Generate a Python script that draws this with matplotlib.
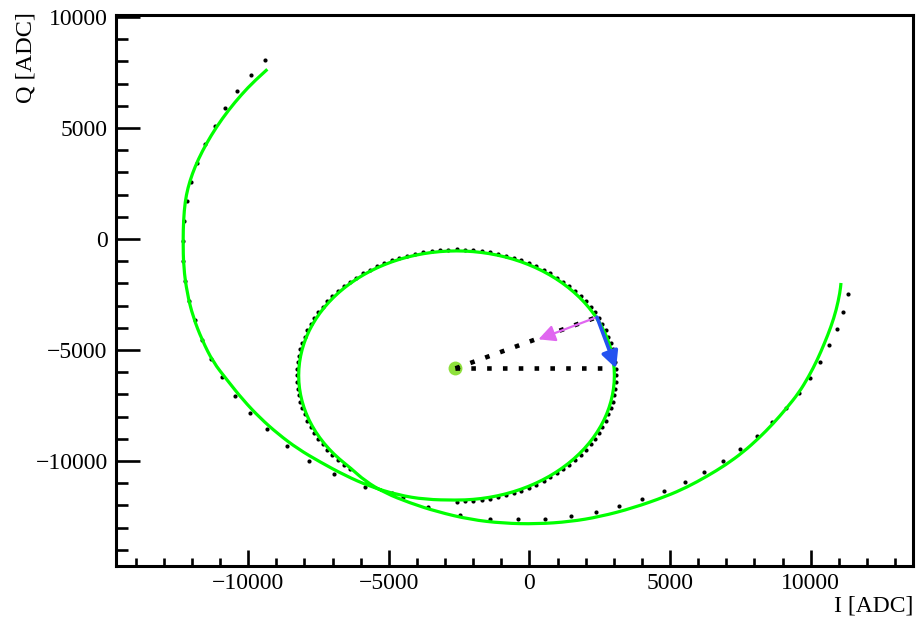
import matplotlib
matplotlib.use("Agg")
import matplotlib.pyplot as plt
from matplotlib.patches import FancyArrowPatch, PathPatch
from matplotlib.path import Path
from matplotlib.ticker import MultipleLocator

plt.rcParams['font.family'] = ['Liberation Serif', 'DejaVu Serif']

# Measured IQ points far from resonance (sparse sweep)
outer_I = [-9399, -9915, -10384, -10811, -11188, -11522, -11806, -12041, -12183, -12279,
           -12325, -12304, -12243, -12091, -11899, -11639, -11308, -10928, -10455, -9933,
           -9318, -8628, -7835, -6936, -5834, -4895, -4483, -3615, -2467, -1401,
           -395, 565, 1479, 2357, 3196, 4003, 4785, 5521, 6218, 6882,
           7497, 8081, 8614, 9112, 9574, 9986, 10341, 10651, 10925, 11148, 11316]
outer_Q = [8064, 7388, 6654, 5888, 5091, 4280, 3437, 2568, 1698, 797,
           -90, -978, -1879, -2780, -3663, -4536, -5393, -6230, -7059, -7825,
           -8573, -9312, -9988, -10600, -11186, -11456, -11609, -12087, -12434, -12600,
           -12627, -12600, -12479, -12285, -12042, -11727, -11366, -10961, -10497, -9988,
           -9461, -8861, -8258, -7600, -6938, -6248, -5528, -4789, -4041, -3275, -2491]

# Measured IQ points across the resonance loop (dense sweep)
loop_I = [-2592, -2295, -1998, -1704, -1411, -1122, -837, -556, -282, -13, 248, 501, 747, 982,
          1208, 1424, 1629, 1822, 2003, 2172, 2327, 2469, 2597, 2711, 2810, 2894, 2964, 3018,
          3057, 3080, 3088, 3080, 3057, 3018, 2964, 2894, 2810, 2711, 2597, 2469, 2327, 2172,
          2003, 1822, 1629, 1424, 1208, 982, 747, 501, 248, -13, -282, -556, -837, -1122,
          -1411, -1704, -1998, -2295, -2592, -2889, -3186, -3480, -3773, -4062, -4347, -4628,
          -4902, -5171, -5432, -5685, -5931, -6166, -6392, -6608, -6813, -7006, -7187, -7356,
          -7511, -7653, -7781, -7895, -7994, -8078, -8148, -8202, -8241, -8264, -8272, -8264,
          -8241, -8202, -8148, -8078, -7994, -7895, -7781, -7653, -7511, -7356, -7187, -7006,
          -6813, -6608, -6392]
loop_Q = [-11829, -11821, -11798, -11759, -11705, -11635, -11551, -11452, -11338, -11210,
          -11068, -10913, -10744, -10563, -10370, -10165, -9949, -9723, -9488, -9242,
          -8989, -8728, -8459, -8185, -7904, -7619, -7330, -7037, -6743, -6446, -6149,
          -5852, -5555, -5261, -4968, -4679, -4394, -4113, -3839, -3570, -3309, -3056,
          -2810, -2575, -2349, -2133, -1928, -1735, -1554, -1385, -1230, -1088, -960,
          -846, -747, -663, -593, -539, -500, -477, -469, -477, -500, -539, -593, -663,
          -747, -846, -960, -1088, -1230, -1385, -1554, -1735, -1928, -2133, -2349, -2575,
          -2810, -3056, -3309, -3570, -3839, -4113, -4394, -4679, -4968, -5261, -5555,
          -5852, -6149, -6446, -6743, -7037, -7330, -7619, -7904, -8185, -8459, -8728,
          -8989, -9242, -9488, -9723, -9949, -10165, -10370]

# Fitted S21 model: approach, resonance loop, departure
fit_in_I = [-9318, -9780, -10242, -10704, -11131, -11486, -11771, -11984, -12144, -12243,
            -12297, -12315, -12297, -12172, -11959, -11639, -11248, -10750, -10182, -9577,
            -8937, -8226, -7444, -6555, -5667, -4671, -3711]
fit_in_Q = [7645, 7118, 6501, 5798, 5041, 4298, 3595, 2946, 2298, 1667,
            856, -45, -1261, -2433, -3514, -4550, -5541, -6352, -7253, -8064,
            -8785, -9461, -10046, -10654, -11150, -11533, -11736]
fit_loop_I = [-2592, -2005, -1424, -855, -306, 218, 711, 1168, 1584, 1955, 2275, 2542, 2753,
              2905, 2997, 3028, 2997, 2905, 2753, 2542, 2275, 1955, 1584, 1168, 711, 218,
              -306, -855, -1424, -2005, -2592, -3179, -3760, -4329, -4878, -5402, -5895,
              -6352, -6768, -7139, -7459, -7726, -7937, -8089, -8181, -8212, -8181, -8089,
              -7937, -7726, -7459, -7139, -6768, -6352]
fit_loop_Q = [-11769, -11738, -11646, -11494, -11283, -11016, -10696, -10325, -9909, -9452,
              -8959, -8435, -7886, -7317, -6736, -6149, -5562, -4981, -4412, -3863, -3339,
              -2846, -2389, -1973, -1602, -1282, -1015, -804, -652, -560, -529, -560, -652,
              -804, -1015, -1282, -1602, -1973, -2389, -2846, -3339, -3863, -4412, -4981,
              -5562, -6149, -6736, -7317, -7886, -8435, -8959, -9452, -9909, -10325]
fit_out_I = [-5844, -5133, -4245, -3285, -2112, -939, 270, 1443, 2510, 3683,
             4856, 5603, 6314, 6978, 7604, 8144, 8664, 9136, 9574, 9929,
             10235, 10494, 10722, 10910, 11042, 11077]
fit_out_Q = [-10902, -11443, -11893, -12285, -12637, -12808, -12839, -12736, -12510, -12118,
             -11596, -11181, -10690, -10177, -9596, -8987, -8321, -7631, -6938, -6199,
             -5447, -4685, -3951, -3194, -2401, -1982]

# Loop centre, resonance point and arrow tips
center = (-2630, -5830)
res_point = (2400, -3520)
horiz_end = (2720, -5830)
radial_tip = (320, -4520)
tangent_tip = (3080, -5830)

fig = plt.figure(figsize=(9.16, 6.21), dpi=100)
ax = fig.add_axes([0.1266, 0.0890, 0.8696, 0.8868])
ax.set_xlim(-14700, 13620)
ax.set_ylim(-14720, 10090)

ax.plot(outer_I, outer_Q, 'o', color='black', ms=3.0, mew=0, zorder=2)
ax.plot(loop_I, loop_Q, 'o', color='black', ms=3.0, mew=0, zorder=2)

# Fit curve drawn as a smooth quadratic-Bezier path through its samples
fit_pts = list(zip(fit_in_I + fit_loop_I + fit_out_I,
                   fit_in_Q + fit_loop_Q + fit_out_Q))
verts = [fit_pts[0]]
codes = [Path.MOVETO]
for k in range(1, len(fit_pts) - 1):
    a, b = fit_pts[k], fit_pts[k + 1]
    verts += [a, ((a[0] + b[0]) / 2, (a[1] + b[1]) / 2)]
    codes += [Path.CURVE3, Path.CURVE3]
verts.append(fit_pts[-1])
codes.append(Path.LINETO)
ax.add_patch(PathPatch(Path(verts, codes), fill=False, ec='#00ff00', lw=2.3,
                       joinstyle='round', capstyle='butt', zorder=3))

ax.plot([center[0]], [center[1]], 'o', color='#8ee03c', ms=10, mew=0, zorder=4)
dot_style = dict(color='black', lw=3.3, linestyle=(0, (1, 2.45)),
                 dash_capstyle='butt', zorder=5)
ax.plot([center[0], horiz_end[0]], [center[1], horiz_end[1]], **dot_style)
ax.plot([center[0], res_point[0]], [center[1], res_point[1]], **dot_style)

for tip, col, w in [(radial_tip, '#e066f0', 1.6), (tangent_tip, '#2452f0', 2.6)]:
    arr = FancyArrowPatch(res_point, tip,
                          arrowstyle='-|>,head_length=10,head_width=5',
                          mutation_scale=1, color=col, lw=w,
                          shrinkA=0, shrinkB=0, zorder=6)
    ax.add_patch(arr)

ax.xaxis.set_major_locator(MultipleLocator(5000))
ax.xaxis.set_minor_locator(MultipleLocator(1000))
ax.yaxis.set_major_locator(MultipleLocator(5000))
ax.yaxis.set_minor_locator(MultipleLocator(1000))
ax.tick_params(axis='x', which='major', direction='in', length=11.8, width=1.9,
               labelsize=17, pad=5, top=False)
ax.tick_params(axis='x', which='minor', direction='in', length=5.9, width=1.9, top=False)
ax.tick_params(axis='y', which='major', direction='in', length=17.3, width=1.9,
               labelsize=17, pad=6, right=False)
ax.tick_params(axis='y', which='minor', direction='in', length=8.6, width=1.9, right=False)
for sp in ax.spines.values():
    sp.set_linewidth(2.2)

fig.text(913 / 916, 1 - 606 / 621, 'I [ADC]', ha='right', va='center', fontsize=17)
fig.text(26 / 916, 1 - 12 / 621, 'Q [ADC]', ha='center', va='top', rotation=90,
         fontsize=17.5)

fig.savefig('out.png', dpi=100)
